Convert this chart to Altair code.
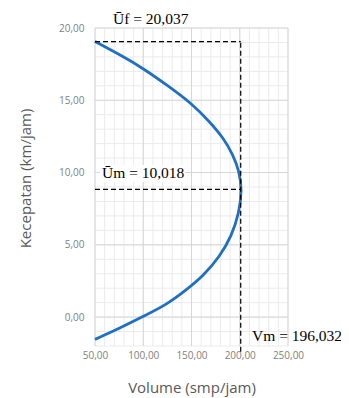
import altair as alt
import pandas as pd

# curve (volume in smp/jam, speed in km/jam)
speed = [-1.54, -0.76, 0.05, 0.86, 1.9, 2.84, 4.21, 5.6, 7.22, 8.83,
         10.09, 11.24, 12.4, 13.5, 14.8, 16.07, 17.2, 18.02, 19.06]
volume = [50, 75.9, 100, 124.2, 144.9, 162.1, 179.4, 191.5, 199.4, 202.3,
          199.4, 193, 183, 169, 150, 124.2, 100, 79.3, 50]

x_ticks = [50, 100, 150, 200, 250]
y_ticks = [0, 5, 10, 15, 20]
x_minor = list(range(50, 251, 10))
y_minor = list(range(-2, 21))

uf_level = 19.06
um_level = 8.84
vm_level = 201
x_start = 50
y_bottom_ext = -2.4

label_uf = "Ūf = 20,037"
label_um = "Ūm = 10,018"
label_vm = "Vm = 196,032"

XD = [50, 250]
YD = [-2, 20]

curve = pd.DataFrame({"volume": volume, "speed": speed, "idx": list(range(len(speed)))})

XS = alt.Scale(domain=XD, nice=False, zero=False)
YS = alt.Scale(domain=YD, nice=False, zero=False)

fmt = "replace(format(datum.value, '.2f'), '.', ',')"

x_axis = alt.Axis(values=x_ticks, labelExpr=fmt, title="Volume (smp/jam)", grid=False,
                  ticks=False, domain=False, labelPadding=4, labelOverlap=False, labelFlush=False,
                  labelFont="Open Sans", labelFontSize=10, labelColor="#808080",
                  titleFont="Open Sans", titleFontSize=15, titleColor="#595959",
                  titleFontWeight="normal", titlePadding=20)
y_axis = alt.Axis(values=y_ticks, labelExpr=fmt, title="Kecepatan (km/jam)", grid=False,
                  ticks=False, domain=False, labelPadding=11, labelOverlap=False, labelFlush=False,
                  labelFont="Open Sans", labelFontSize=10, labelColor="#808080",
                  titleFont="Open Sans", titleFontSize=15, titleColor="#595959",
                  titleFontWeight="normal", titlePadding=25, titleY=150)


def X(f):
    return alt.X(f, type="quantitative", scale=XS, axis=x_axis)


def Y(f):
    return alt.Y(f, type="quantitative", scale=YS, axis=y_axis)


xgrid_minor = alt.Chart(pd.DataFrame({"gx": x_minor})).mark_rule(color="#ebebeb", strokeWidth=1).encode(x=X("gx"))
ygrid_minor = alt.Chart(pd.DataFrame({"gy": y_minor})).mark_rule(color="#ebebeb", strokeWidth=1).encode(y=Y("gy"))
xgrid_major = alt.Chart(pd.DataFrame({"gx": x_ticks})).mark_rule(color="#d6d6d6", strokeWidth=1).encode(x=X("gx"))
ygrid_major = alt.Chart(pd.DataFrame({"gy": y_ticks})).mark_rule(color="#d6d6d6", strokeWidth=1).encode(y=Y("gy"))

white_box = alt.Chart(pd.DataFrame({"a": [0]})).mark_rect(color="white").encode(
    x=alt.value(5), x2=alt.value(90), y=alt.value(137), y2=alt.value(154)
)

line = alt.Chart(curve).mark_line(color="#1f70c4", strokeWidth=2.8, interpolate="basis").encode(
    x=X("volume"), y=Y("speed"), order="idx:Q",
)

dash = dict(color="black", strokeWidth=1.2, strokeDash=[5, 3])
h_uf = alt.Chart(pd.DataFrame({"x1": [x_start], "x2": [vm_level], "y": [uf_level]})).mark_rule(**dash).encode(
    x=X("x1"), x2="x2", y=Y("y"))
h_um = alt.Chart(pd.DataFrame({"x1": [x_start], "x2": [vm_level], "y": [um_level]})).mark_rule(**dash).encode(
    x=X("x1"), x2="x2", y=Y("y"))
v_vm = alt.Chart(pd.DataFrame({"x": [vm_level], "y1": [y_bottom_ext], "y2": [uf_level]})).mark_rule(**dash).encode(
    x=X("x"), y=Y("y1"), y2="y2")

tstyle = dict(font="Liberation Serif", fontSize=15.5, color="black", align="left", baseline="middle")
t_uf = alt.Chart(pd.DataFrame({"t": [label_uf]})).mark_text(**tstyle).encode(
    text="t", x=alt.value(18), y=alt.value(-9))
t_um = alt.Chart(pd.DataFrame({"t": [label_um]})).mark_text(**tstyle).encode(
    text="t", x=alt.value(7), y=alt.value(145))
t_vm = alt.Chart(pd.DataFrame({"t": [label_vm]})).mark_text(**tstyle).encode(
    text="t", x=alt.value(157), y=alt.value(308))

chart = alt.layer(
    xgrid_minor, ygrid_minor, xgrid_major, ygrid_major, white_box,
    line, h_uf, h_um, v_vm, t_uf, t_um, t_vm
).properties(
    width=193, height=318,
    autosize=alt.AutoSizeParams(type="none"),
    padding={"left": 87, "top": 20, "right": 53, "bottom": 52},
    background="white",
).configure_view(stroke=None)

chart.save("out.html", embed_options={"renderer": "svg", "actions": False})
